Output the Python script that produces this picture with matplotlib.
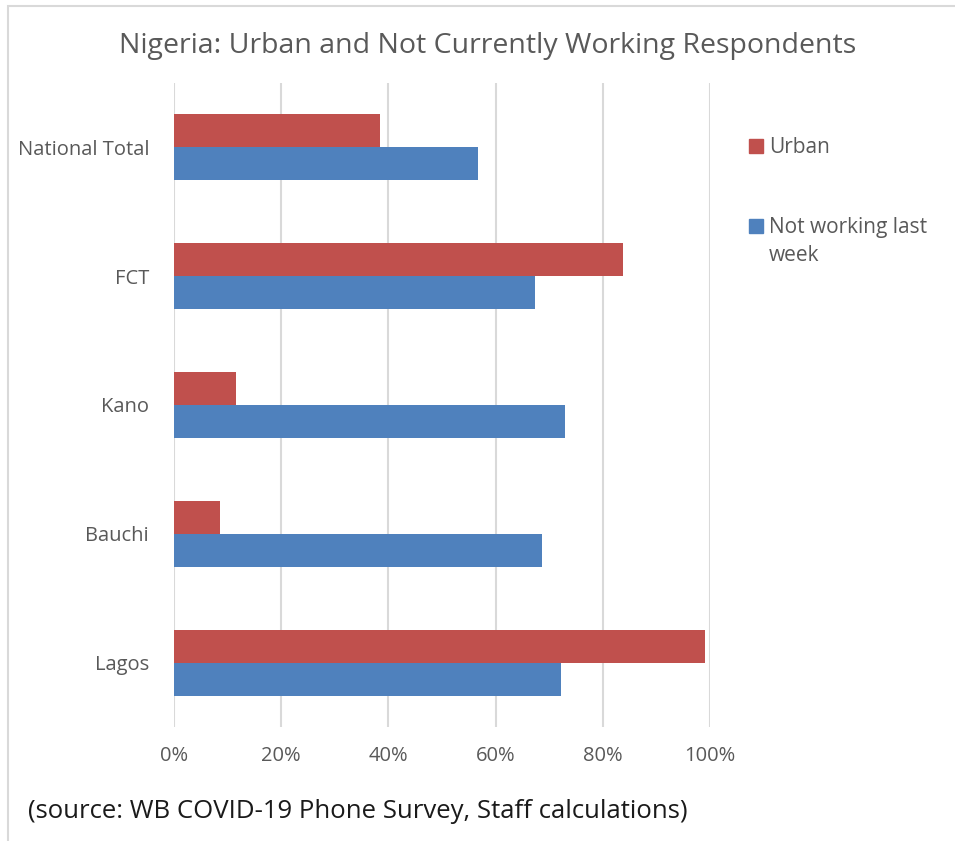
import matplotlib.pyplot as plt
from matplotlib.patches import Rectangle
from matplotlib.ticker import PercentFormatter

regions = ["National Total", "FCT", "Kano", "Bauchi", "Lagos"]
urban = [0.384, 0.838, 0.116, 0.086, 0.991]
not_working = [0.567, 0.673, 0.729, 0.687, 0.722]
series_names = ["Urban", "Not working last\nweek"]

red = "#C0504D"
blue = "#4F81BD"
grey_txt = "#595959"

plt.rcParams['font.family'] = ['Open Sans', 'DejaVu Sans']

W, H = 955, 841
fig = plt.figure(figsize=(9.55, 8.41), dpi=100)
ax = fig.add_axes([174/W, 1 - 727/H, (710 - 174)/W, (727 - 83)/H])

# outer chart border (light grey)
fig.patches.append(Rectangle((8/W, -0.05), 1.0, 1 - 6/H + 0.05,
                             transform=fig.transFigure, fill=False,
                             edgecolor="#D9D9D9", linewidth=1.5))

ypos = list(range(len(regions)))
h = 0.256
ax.barh([y - h/2 for y in ypos], urban, height=h, color=red)
ax.barh([y + h/2 for y in ypos], not_working, height=h, color=blue)

ax.set_ylim(len(regions) - 0.5, -0.5)
ax.set_xlim(0, 1)
ax.set_yticks(ypos)
ax.set_yticklabels(regions)
ax.set_xticks([0, 0.2, 0.4, 0.6, 0.8, 1.0])
ax.xaxis.set_major_formatter(PercentFormatter(1.0, decimals=0))
ax.grid(axis="x", color="#D9D9D9", linewidth=1.5)
ax.set_axisbelow(True)
for s in ax.spines.values():
    s.set_visible(False)
ax.tick_params(length=0, labelsize=14.5, labelcolor=grey_txt)
ax.tick_params(axis="x", pad=14)
ax.tick_params(axis="y", pad=18)

fig.text(488/W, 1 - 46/H, "Nigeria: Urban and Not Currently Working Respondents",
         ha="center", va="center", fontsize=20.5, color=grey_txt)

# legend drawn by hand so the square sits on the first text line
for name, col, ytop in zip(series_names, [red, blue], [139, 219]):
    fig.patches.append(Rectangle((749/W, 1 - (ytop + 14)/H), 14/W, 14/H,
                                 transform=fig.transFigure, color=col))
    fig.text(769/W, 1 - (ytop - 2)/H, name, ha="left", va="top",
             fontsize=15, color=grey_txt, linespacing=1.45)

fig.text(28/W, 1 - 812/H, "(source: WB COVID-19 Phone Survey, Staff calculations)",
         ha="left", va="center", fontsize=18.5, color="#1a1a1a")

fig.savefig("out.png", dpi=100)
